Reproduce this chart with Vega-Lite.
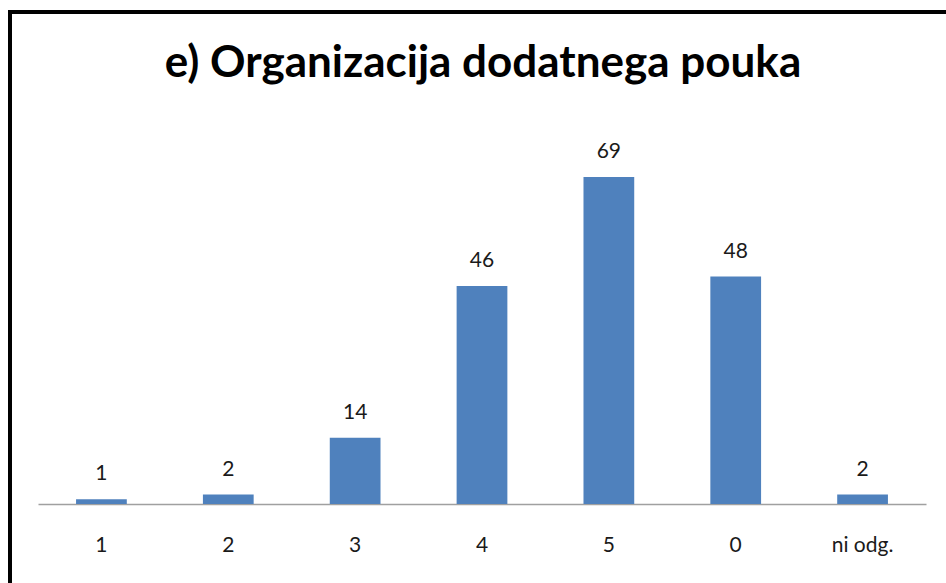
{
  "$schema": "https://vega.github.io/schema/vega-lite/v6.json",
  "autosize": "none",
  "padding": {"left": 10, "top": 12, "right": 0, "bottom": 0},
  "width": 946,
  "height": 600,
  "background": "white",
  "title": {
    "text": "e) Organizacija dodatnega pouka",
    "font": "Lato",
    "fontSize": 44,
    "fontWeight": "bold",
    "color": "#000000",
    "anchor": "middle",
    "baseline": "alphabetic",
    "offset": -109
  },
  "config": {
    "view": {"stroke": "#000000", "strokeWidth": 4},
    "font": "Lato"
  },
  "data": {
    "values": [
      {"ocena": "1", "n": 1},
      {"ocena": "2", "n": 2},
      {"ocena": "3", "n": 14},
      {"ocena": "4", "n": 46},
      {"ocena": "5", "n": 69},
      {"ocena": "0", "n": 48},
      {"ocena": "ni odg.", "n": 2}
    ]
  },
  "encoding": {
    "x": {
      "field": "ocena",
      "type": "nominal",
      "sort": null,
      "scale": {"range": [28, 916], "paddingInner": 0.6, "paddingOuter": 0.3},
      "axis": {
        "title": null,
        "labelAngle": 0,
        "offset": -108,
        "ticks": false,
        "domainColor": "#A0A0A0",
        "domainWidth": 1.5,
        "labelFont": "Lato",
        "labelFontSize": 21,
        "labelColor": "#1a1a1a",
        "labelPadding": 30
      }
    },
    "y": {
      "field": "n",
      "type": "quantitative",
      "scale": {"domain": [0, 69], "range": [492, 165], "nice": false},
      "axis": null
    }
  },
  "layer": [
    {"mark": {"type": "bar", "color": "#4F81BD"}},
    {
      "mark": {"type": "text", "baseline": "alphabetic", "dy": -19, "fontSize": 21, "font": "Lato", "color": "#1a1a1a"},
      "encoding": {"text": {"field": "n", "type": "quantitative"}}
    }
  ]
}
